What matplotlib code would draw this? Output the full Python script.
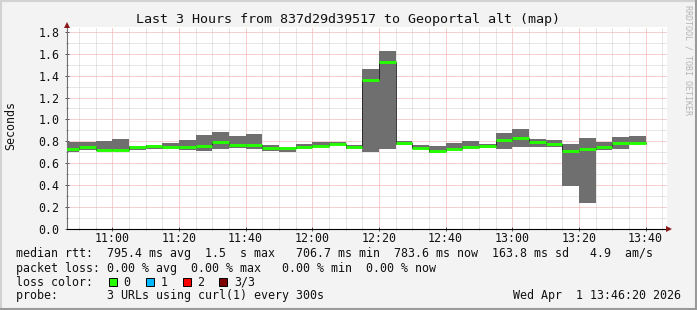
import matplotlib
matplotlib.use("Agg")
import matplotlib.pyplot as plt
from matplotlib.patches import Rectangle
from matplotlib.lines import Line2D
from matplotlib.ticker import MultipleLocator, FixedLocator
import numpy as np

# ---- data (5-minute bins, start time in minutes after 10:00) ----
bin_start = list(range(45, 220, 5))  # 10:45 ... 13:35
smoke_hi = [0.792, 0.792, 0.800, 0.820, 0.753, 0.768, 0.783, 0.808, 0.854, 0.884,
            0.845, 0.866, 0.762, 0.747, 0.771, 0.792, 0.792, 0.768, 1.460, 1.625,
            0.798, 0.762, 0.753, 0.780, 0.800, 0.775, 0.872, 0.915, 0.823, 0.808,
            0.771, 0.828, 0.790, 0.836, 0.845]
smoke_lo = [0.700, 0.722, 0.710, 0.710, 0.716, 0.732, 0.732, 0.716, 0.707, 0.732,
            0.737, 0.732, 0.713, 0.700, 0.727, 0.747, 0.762, 0.725, 0.698, 0.725,
            0.762, 0.730, 0.695, 0.716, 0.730, 0.735, 0.730, 0.745, 0.747, 0.747,
            0.389, 0.233, 0.716, 0.733, 0.777]
median = [0.725, 0.747, 0.716, 0.716, 0.744, 0.756, 0.747, 0.747, 0.756, 0.795,
          0.764, 0.764, 0.737, 0.737, 0.747, 0.756, 0.776, 0.747, 1.359, 1.527,
          0.788, 0.737, 0.710, 0.727, 0.747, 0.759, 0.810, 0.829, 0.790, 0.770,
          0.710, 0.725, 0.745, 0.780, 0.783]
x_major = [60, 80, 100, 120, 140, 160, 180, 200, 220]
x_labels = ["11:00", "11:20", "11:40", "12:00", "12:20", "12:40", "13:00", "13:20", "13:40"]
y_major = [0.0, 0.2, 0.4, 0.6, 0.8, 1.0, 1.2, 1.4, 1.6, 1.8]
y_labels = ["0.0", "0.2", "0.4", "0.6", "0.8", "1.0", "1.2", "1.4", "1.6", "1.8"]
x_start, x_end = 46 + 20 / 60, 226 + 20 / 60
step = 5

title = "Last 3 Hours from 837d29d39517 to Geoportal alt (map)"
line1 = "median rtt:  795.4 ms avg  1.5  s max   706.7 ms min  783.6 ms now  163.8 ms sd   4.9  am/s"
line2 = "packet loss: 0.00 % avg  0.00 % max   0.00 % min  0.00 % now"
line4a = "probe:       3 URLs using curl(1) every 300s"
line4b = "Wed Apr  1 13:46:20 2026"
loss_names = ["0", "1", "2", "3/3"]
loss_colors = ["#26ff00", "#00b8ff", "#ff0000", "#7e0000"]

W, H = 697, 310
def fx(x): return x / W
def fy(y): return 1 - y / H

MONO = "DejaVu Sans Mono"
FS = 8.4
TXT = "#111111"

fig = plt.figure(figsize=(W / 100, H / 100), dpi=100)
fig.patch.set_facecolor("#f3f3f3")

ax_l, ax_r, ax_b, ax_t = 66.7, 666.7, 228.5, 27
ax = fig.add_axes([fx(ax_l), fy(ax_b), fx(ax_r) - fx(ax_l), (ax_b - ax_t) / H])
ax.set_facecolor("white")
ax.set_xlim(x_start, x_end)
ax.set_ylim(0, (ax_b - ax_t) / 109.1)

# smoke
ax.bar(bin_start, np.array(smoke_hi) - np.array(smoke_lo), bottom=smoke_lo,
       width=step, align="edge", color="#6f6f6f", linewidth=0, zorder=2)
# median thin dark step line
xs = []
ys = []
for s, m in zip(bin_start, median):
    xs += [s, s + step]
    ys += [m, m]
ax.plot(xs, ys, color="#202020", lw=0.6, zorder=3)
# median green segments
ax.hlines(median, bin_start, [s + step for s in bin_start], color=loss_colors[0],
          lw=2.1, zorder=4)

# grid
ax.xaxis.set_major_locator(FixedLocator(x_major))
ax.xaxis.set_minor_locator(MultipleLocator(5))
ax.yaxis.set_major_locator(FixedLocator(y_major))
ax.yaxis.set_minor_locator(MultipleLocator(0.1))
ax.set_xticklabels(x_labels)
ax.set_yticklabels(y_labels)
ax.grid(which="minor", color="#cfcfcf", lw=0.72, linestyle=(0, (1, 1)))
ax.grid(which="major", color="#f2a0a0", lw=0.72, linestyle=(0, (1, 1)))
ax.set_axisbelow(True)

for sp in ["top", "right"]:
    ax.spines[sp].set_visible(False)
ax.spines["left"].set_color("#707070")
ax.spines["left"].set_linewidth(0.8)
ax.spines["bottom"].set_color("#000000")
ax.spines["bottom"].set_linewidth(0.8)

ax.tick_params(which="major", direction="inout", length=3, width=0.7, color="#555555",
               labelsize=FS, labelcolor=TXT)
ax.tick_params(which="minor", direction="inout", length=2, width=0.6, color="#888888")
ax.tick_params(axis="y", which="major", pad=3.8)
ax.tick_params(axis="x", which="major", pad=1.2)
for lab in ax.get_xticklabels() + ax.get_yticklabels():
    lab.set_family(MONO)

# axis extension + arrows
fig.add_artist(Line2D([fx(ax_r), fx(669)], [fy(ax_b), fy(ax_b)], color="black", lw=0.8))
fig.add_artist(Line2D([fx(669)], [fy(ax_b)], marker=">", color="#8b1a1a", markersize=4.5,
                      markeredgewidth=0))
fig.add_artist(Line2D([fx(ax_l)], [fy(25)], marker="^", color="#8b1a1a", markersize=4.5,
                      markeredgewidth=0))

# texts
fig.text(fx(347.5), fy(19), title, family=MONO, fontsize=9.6, ha="center", va="center",
         color=TXT)
fig.text(fx(10.5), fy(126), "Seconds", family=MONO, fontsize=FS, rotation=90,
         ha="center", va="center", color=TXT)
fig.text(fx(688), fy(60), "RRDTOOL / TOBI OETIKER", family=MONO, fontsize=6,
         rotation=270, ha="center", va="center", color="#b4b4b4")

fig.text(fx(16), fy(254), line1, family=MONO, fontsize=FS, ha="left", va="center", color=TXT)
fig.text(fx(16), fy(268.3), line2, family=MONO, fontsize=FS, ha="left", va="center", color=TXT)
fig.text(fx(16), fy(282), "loss color:", family=MONO, fontsize=FS, ha="left", va="center",
         color=TXT)
box_x = [108.5, 145.5, 182.5, 219.0]
lab_x = [123.5, 160.5, 197.5, 234.0]
for bx, lx, name, col in zip(box_x, lab_x, loss_names, loss_colors):
    fig.add_artist(Rectangle((fx(bx), fy(286)), 8 / W, 8 / H, transform=fig.transFigure,
                             facecolor=col, edgecolor="black", lw=0.7))
    fig.text(fx(lx), fy(282), name, family=MONO, fontsize=FS, ha="left", va="center",
             color=TXT)
fig.text(fx(16), fy(296), line4a, family=MONO, fontsize=FS, ha="left", va="center", color=TXT)
fig.text(fx(681), fy(296), line4b, family=MONO, fontsize=FS, ha="right", va="center",
         color=TXT)

# frame
fig.add_artist(Line2D([0, 1], [fy(0.5), fy(0.5)], color="#d2d2d2", lw=1.5))
fig.add_artist(Line2D([fx(0.5), fx(0.5)], [0, 1], color="#d2d2d2", lw=1.5))
fig.add_artist(Line2D([0, 1], [fy(309), fy(309)], color="#9a9a9a", lw=1.5))
fig.add_artist(Line2D([fx(696), fx(696)], [0, 1], color="#9a9a9a", lw=1.5))

fig.savefig("out.png", dpi=100, facecolor=fig.get_facecolor())
